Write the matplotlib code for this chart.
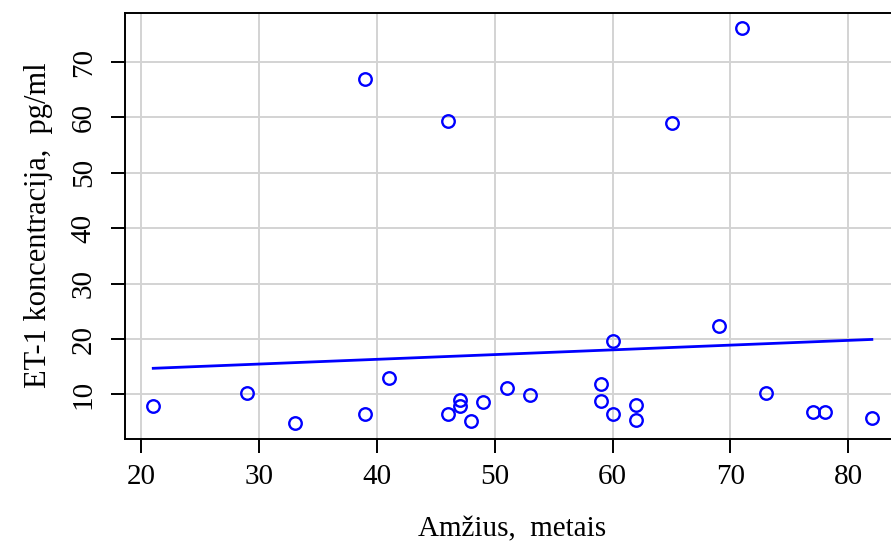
import numpy as np
import matplotlib
matplotlib.use("Agg")
import matplotlib.pyplot as plt

age = [21, 29, 33, 39, 39, 41, 46, 46, 47, 47, 48, 49, 51, 53, 59, 59,
       60, 60, 62, 62, 65, 69, 71, 73, 77, 78, 82]
et1 = [7.9, 10.2, 4.9, 6.5, 66.9, 12.9, 6.5, 59.3, 9.0, 8.0, 5.2, 8.7,
       11.1, 9.9, 11.9, 8.8, 6.4, 19.7, 8.1, 5.4, 59.0, 22.3, 76.1, 10.2,
       6.8, 6.8, 5.8]
xticks = [20, 30, 40, 50, 60, 70, 80]
yticks = [10, 20, 30, 40, 50, 60, 70]
xlabel = "Amžius,  metais"
ylabel = "ET-1 koncentracija,  pg/ml"

plt.rcParams['font.family'] = ['Liberation Serif', 'DejaVu Serif']

x = np.array(age, dtype=float)
y = np.array(et1, dtype=float)

fig = plt.figure(figsize=(8.91, 5.42), dpi=100)
W, H = 891, 542
left, right, top, bottom = 124.5, 900.6, 12.5, 438.5
ax = fig.add_axes([left / W, 1 - bottom / H, (right - left) / W, (bottom - top) / H])

def ext(a):
    r = a.max() - a.min()
    return a.min() - 0.04 * r, a.max() + 0.04 * r

ax.set_xlim(*ext(x))
ax.set_ylim(*ext(y))

ax.set_xticks(xticks)
ax.set_yticks(yticks)
ax.grid(True, color='#D3D3D3', linewidth=1.4)
ax.set_axisbelow(True)

ax.plot(x, y, linestyle='none', marker='o', ms=9, mfc='none', mec='#0000FF', mew=1.7, zorder=3)

b, a = np.polyfit(x, y, 1)
xs = np.array([x.min(), x.max()])
ax.plot(xs, a + b * xs, color='#0000FF', linewidth=2.0, zorder=3)

for s in ax.spines.values():
    s.set_linewidth(1.4)
    s.set_color('black')

ax.tick_params(axis='both', direction='out', length=10, width=1.4, labelsize=21, colors='black')
ax.tick_params(axis='x', pad=8)
ax.tick_params(axis='y', pad=10)
for lab in ax.get_yticklabels():
    lab.set_rotation(90)
    lab.set_va('center')

ax.set_xlabel(xlabel, fontsize=21, labelpad=19)
ax.set_ylabel(ylabel, fontsize=22, labelpad=13)

fig.savefig("out.png", dpi=100)
